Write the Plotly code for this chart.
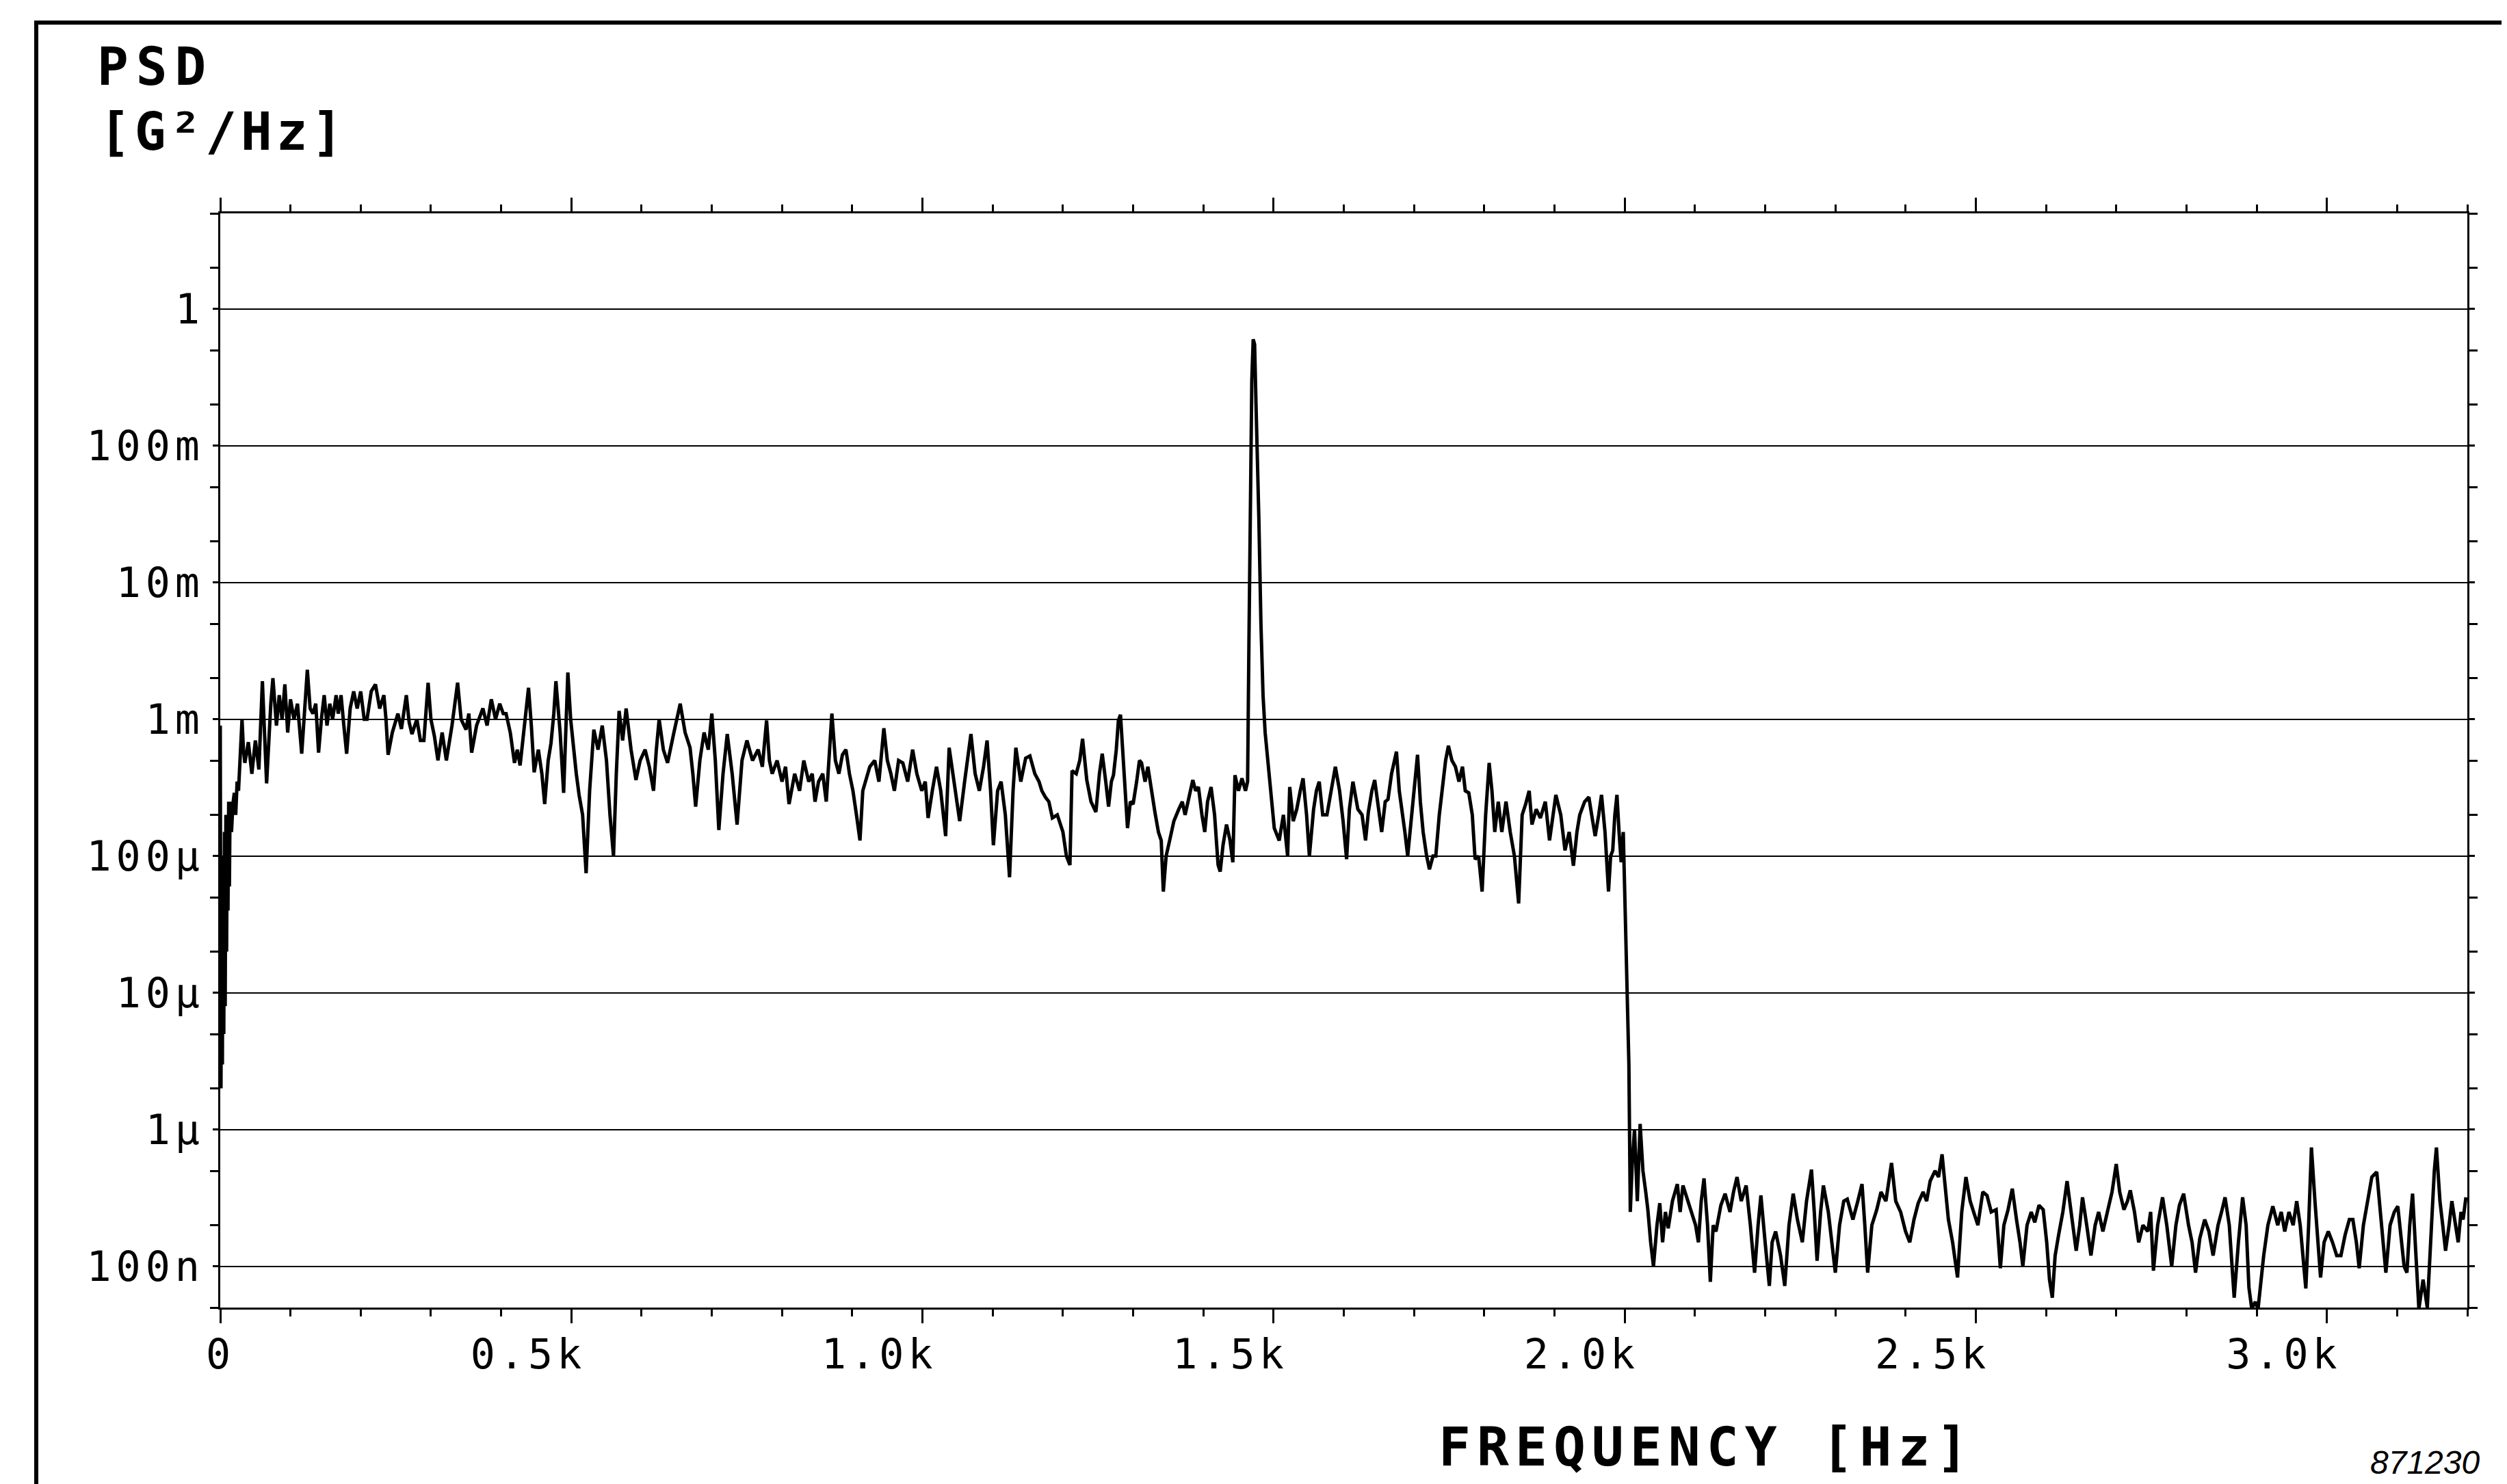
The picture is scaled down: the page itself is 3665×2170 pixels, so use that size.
import plotly.graph_objects as go

# ---------------- data ----------------
# Segment 1: 0 .. 1 kHz
f_seg1 = [0, 1, 2, 3, 4, 5, 6, 7, 8, 9, 10, 11, 12, 13, 14, 16, 18, 20, 22, 24, 26, 28, 31, 33, 35,
          40, 45, 50, 55, 60, 66, 72, 75, 80, 84, 88, 92, 96, 100, 105, 110, 116, 120, 124, 128, 132,
          136, 140, 144, 148, 152, 156, 160, 165, 168, 172, 176, 180, 185, 190, 195, 200, 205, 209,
          215, 221, 227, 233, 236, 239, 245, 253, 258, 265, 269, 273, 280, 285, 290, 296, 300, 305,
          310, 316, 322, 330, 338, 343, 350, 354, 358, 365, 374, 380, 386, 392, 398, 403, 407, 413,
          419, 423, 427, 433, 439, 443, 447, 453, 458, 462, 467, 471, 475, 478, 484, 489, 492, 495,
          499, 503, 507, 511, 516, 521, 526, 532, 538, 544, 550, 555, 560, 564, 568, 573, 578, 585,
          592, 598, 605, 611, 617, 621, 625, 631, 637, 646, 655, 662, 669, 673, 677, 683, 689, 695,
          700, 705, 710, 716, 722, 729, 736, 743, 750, 758, 766, 772, 778, 782, 786, 793, 800, 805,
          810, 818, 825, 831, 838, 843, 847, 852, 858, 863, 867, 871, 876, 881, 886, 891, 896, 901,
          906, 911, 915, 919, 925, 932, 938, 945, 950, 955, 960, 966, 972, 979, 986, 992, 999]
psd_seg1 = [9e-4, 2e-6, 4e-5, 3e-6, 1e-4, 5e-6, 1.5e-4, 8e-6, 2e-4, 2e-5, 2e-4, 4e-5, 2.5e-4, 6e-5,
            2.5e-4, 1.5e-4, 2.4e-4, 2.9e-4, 2.0e-4, 3.5e-4, 3.0e-4, 5.0e-4, 1.0e-3, 6e-4, 4.8e-4,
            6.8e-4, 4.0e-4, 7.0e-4, 4.3e-4, 1.9e-3, 3.4e-4, 1.3e-3, 2.0e-3, 9.0e-4, 1.5e-3, 1.0e-3,
            1.8e-3, 8.0e-4, 1.4e-3, 1.0e-3, 1.3e-3, 5.6e-4, 1.1e-3, 2.3e-3, 1.2e-3, 1.1e-3,
            1.3e-3, 5.7e-4, 1.0e-3, 1.5e-3, 9.0e-4, 1.3e-3, 1.0e-3, 1.5e-3, 1.1e-3, 1.5e-3, 9.0e-4,
            5.6e-4, 1.2e-3, 1.6e-3, 1.2e-3, 1.6e-3, 1.0e-3, 1.0e-3,
            1.6e-3, 1.8e-3, 1.2e-3, 1.5e-3, 1.0e-3, 5.5e-4, 8.0e-4, 1.1e-3, 8.5e-4, 1.5e-3, 9.5e-4,
            7.8e-4, 1.0e-3, 7.0e-4, 7.0e-4, 1.85e-3, 1.0e-3, 7.5e-4,
            5.0e-4, 8.0e-4, 5.0e-4, 9.0e-4, 1.85e-3, 1.0e-3, 8.4e-4, 1.1e-3, 5.7e-4, 9.0e-4, 1.2e-3,
            9.0e-4, 1.4e-3, 1.0e-3, 1.3e-3, 1.1e-3, 1.1e-3, 8.0e-4,
            4.8e-4, 6.0e-4, 4.6e-4, 9.0e-4, 1.7e-3, 9.0e-4, 4.1e-4, 6.0e-4, 4.0e-4, 2.4e-4, 5.0e-4,
            6.7e-4, 1.1e-3, 1.9e-3, 8.0e-4, 2.9e-4, 8.0e-4, 2.2e-3,
            1.0e-3, 6.0e-4, 4.0e-4, 2.8e-4, 2.0e-4, 7.5e-5, 3.0e-4, 8.4e-4, 6.0e-4, 9.0e-4, 5.0e-4,
            2.0e-4, 1.0e-4, 4.0e-4, 1.15e-3, 7.0e-4, 1.2e-3, 6.0e-4,
            3.6e-4, 5.0e-4, 6.0e-4, 4.5e-4, 3.0e-4, 6.0e-4, 1.0e-3, 6.0e-4, 4.8e-4, 8.0e-4, 1.3e-3,
            8.0e-4, 6.2e-4, 4.0e-4, 2.3e-4, 5.0e-4, 8.0e-4, 6.0e-4,
            1.1e-3, 5.0e-4, 1.55e-4, 4.0e-4, 7.8e-4, 4.0e-4, 1.7e-4, 5.0e-4, 7.0e-4, 5.0e-4, 6.0e-4,
            4.5e-4, 9.8e-4, 5.0e-4, 4.0e-4, 5.0e-4, 3.5e-4, 4.5e-4,
            2.4e-4, 4.0e-4, 3.0e-4, 5.0e-4, 3.5e-4, 4.0e-4, 2.5e-4, 3.5e-4, 4.0e-4, 2.5e-4, 5.0e-4,
            1.1e-3, 5.0e-4, 4.0e-4, 5.5e-4, 6.0e-4, 4.0e-4, 3.0e-4,
            2.0e-4, 1.3e-4, 3.0e-4, 3.6e-4, 4.5e-4, 5.0e-4, 3.5e-4, 8.6e-4, 5.0e-4, 4.0e-4, 3.0e-4,
            5.0e-4, 4.8e-4, 3.5e-4, 6.0e-4, 4.0e-4, 3.0e-4]

# Segment 2: 1 .. 2 kHz (includes the 1.47 kHz line)
f_seg2 = [1004, 1008, 1014, 1020, 1026, 1033, 1038, 1045, 1053, 1060, 1069, 1075, 1081, 1087, 1092,
          1097, 1101, 1107, 1112, 1118, 1124, 1129, 1133, 1140, 1147, 1153, 1160, 1166, 1170, 1175,
          1180, 1185, 1192, 1200, 1205, 1210, 1213, 1219, 1224, 1228, 1234, 1240, 1247, 1252, 1256,
          1261, 1265, 1269, 1272, 1276, 1279, 1282, 1285, 1287, 1290, 1292, 1296, 1300, 1305, 1309,
          1312, 1317, 1321, 1326, 1331, 1336, 1340, 1343, 1347, 1352, 1358, 1365, 1370, 1374, 1380,
          1385, 1389, 1393, 1398, 1402, 1406, 1411, 1416, 1421, 1424, 1428, 1433, 1438, 1442, 1445,
          1450, 1455, 1460, 1463, 1465, 1467, 1469, 1471, 1473, 1475, 1477, 1479, 1482, 1485, 1488,
          1492, 1496, 1501, 1508, 1514, 1520, 1523, 1528, 1533, 1538, 1542, 1547, 1551, 1557, 1561,
          1565, 1570, 1576, 1582, 1588, 1594, 1599, 1604, 1608, 1613, 1620, 1626, 1631, 1635, 1640,
          1644, 1649, 1654, 1659, 1663, 1668, 1675, 1679, 1683, 1687, 1691, 1697, 1701, 1705, 1709,
          1713, 1718, 1722, 1727, 1731, 1736, 1741, 1745, 1749, 1754, 1759, 1764, 1769, 1773, 1778,
          1783, 1787, 1792, 1797, 1802, 1807, 1811, 1815, 1820, 1825, 1831, 1837, 1843, 1849, 1854,
          1859, 1864, 1868, 1874, 1880, 1887, 1893, 1898, 1902, 1909, 1915, 1921, 1927, 1932, 1936,
          1943, 1949, 1953, 1958, 1963, 1967, 1972, 1977, 1980, 1983, 1986, 1989, 1992, 1995, 1998,
          2000, 2003]
psd_seg2 = [3.5e-4, 1.9e-4, 3.0e-4, 4.5e-4, 3.0e-4, 1.4e-4, 6.2e-4, 3.5e-4, 1.8e-4, 3.5e-4, 7.8e-4,
            4.0e-4, 3.0e-4, 4.5e-4, 7.0e-4,
            3.0e-4, 1.2e-4, 3.0e-4, 3.5e-4, 2.0e-4, 7.0e-5, 3.0e-4, 6.2e-4, 3.5e-4, 5.2e-4, 5.4e-4,
            4.0e-4, 3.5e-4, 3.0e-4, 2.7e-4,
            2.5e-4, 1.9e-4, 2.0e-4, 1.5e-4, 1.0e-4, 8.6e-5, 4.2e-4, 4.0e-4, 5.0e-4, 7.2e-4, 3.6e-4,
            2.5e-4, 2.1e-4, 4.0e-4, 5.6e-4,
            3.5e-4, 2.3e-4, 3.5e-4, 3.9e-4, 6.0e-4, 9.8e-4, 1.08e-3, 6.0e-4, 4.8e-4, 2.5e-4, 1.6e-4,
            2.5e-4, 2.4e-4, 3.5e-4, 5.0e-4,
            4.8e-4, 3.5e-4, 4.5e-4, 3.0e-4, 2.1e-4, 1.5e-4, 1.3e-4, 5.5e-5, 1.0e-4, 1.3e-4, 1.8e-4,
            2.2e-4, 2.5e-4, 2.0e-4, 2.8e-4,
            3.6e-4, 3.0e-4, 3.2e-4, 2.0e-4, 1.5e-4, 2.5e-4, 3.2e-4, 2.0e-4, 8.6e-5, 7.7e-5, 1.2e-4,
            1.7e-4, 1.3e-4, 9.0e-5, 3.9e-4,
            3.0e-4, 3.7e-4, 3.0e-4, 3.5e-4, 4.0e-3, 6.0e-2, 0.3, 0.6, 0.55, 0.2, 0.09, 0.03, 5.0e-3,
            1.5e-3, 8.0e-4,
            5.0e-4, 3.0e-4, 1.6e-4, 1.3e-4, 2.0e-4, 1.0e-4, 3.2e-4, 1.8e-4, 2.2e-4, 3.0e-4, 3.7e-4,
            2.0e-4, 1.0e-4, 2.2e-4, 3.0e-4,
            3.5e-4, 2.0e-4, 2.0e-4, 3.0e-4, 4.5e-4, 3.0e-4, 1.8e-4, 9.5e-5, 2.2e-4, 3.5e-4, 2.2e-4,
            2.0e-4, 1.3e-4, 2.1e-4, 3.0e-4,
            3.6e-4, 2.2e-4, 1.5e-4, 2.5e-4, 2.6e-4, 4.0e-4, 5.8e-4, 3.0e-4, 2.2e-4, 1.5e-4, 1.0e-4,
            2.0e-4, 3.5e-4, 5.5e-4, 2.5e-4,
            1.5e-4, 1.0e-4, 8.0e-5, 1.0e-4, 1.0e-4, 2.0e-4, 3.3e-4, 5.0e-4, 6.4e-4, 5.0e-4, 4.5e-4,
            3.5e-4, 4.5e-4, 3.0e-4, 2.9e-4,
            2.0e-4, 9.5e-5, 1.0e-4, 5.5e-5, 2.0e-4, 4.8e-4, 3.0e-4, 1.5e-4, 2.5e-4, 1.5e-4, 2.5e-4,
            1.5e-4, 1.0e-4, 4.5e-5, 2.0e-4,
            2.4e-4, 3.0e-4, 1.7e-4, 2.2e-4, 1.9e-4, 2.5e-4, 1.3e-4, 2.0e-4, 2.8e-4, 2.0e-4, 1.1e-4,
            1.5e-4, 8.5e-5, 1.5e-4, 2.0e-4,
            2.5e-4, 2.7e-4, 2.0e-4, 1.4e-4, 2.0e-4, 2.8e-4, 1.5e-4, 5.5e-5, 1.0e-4, 1.1e-4, 2.0e-4,
            2.8e-4, 1.5e-4, 9.0e-5, 1.5e-4,
            5.5e-5, 1.8e-5]

# Segment 3: 2 .. 3.2 kHz (above the anti-alias cut-off)
f_seg3 = [2006, 2008, 2011, 2014, 2018, 2022, 2026, 2030, 2033, 2037, 2041, 2046, 2050, 2054, 2058,
          2062, 2068, 2075, 2079, 2083, 2090, 2096, 2101, 2105, 2109, 2113, 2118, 2122, 2126, 2130,
          2137, 2143, 2150, 2155, 2160, 2166, 2173, 2179, 2185, 2190, 2194, 2200, 2206, 2210, 2215,
          2222, 2228, 2234, 2240, 2246, 2253, 2259, 2266, 2270, 2274, 2279, 2283, 2290, 2295, 2300,
          2306, 2312, 2317, 2325, 2332, 2338, 2342, 2346, 2352, 2359, 2365, 2372, 2380, 2386, 2393,
          2400, 2406, 2412, 2418, 2425, 2430, 2435, 2442, 2447, 2452, 2457, 2461, 2467, 2474, 2480,
          2486, 2492, 2497, 2503, 2510, 2516, 2522, 2529, 2535, 2540, 2546, 2552, 2558, 2563, 2567,
          2573, 2579, 2584, 2590, 2596, 2601, 2605, 2609, 2613, 2618, 2624, 2630, 2636, 2643, 2648,
          2652, 2658, 2664, 2670, 2675, 2681, 2688, 2694, 2700, 2705, 2711, 2716, 2720, 2726, 2732,
          2738, 2745, 2749, 2753, 2759, 2766, 2772, 2779, 2785, 2790, 2796, 2803, 2808, 2813, 2819,
          2826, 2832, 2838, 2845, 2850, 2855, 2861, 2868, 2874, 2880, 2885, 2889, 2893, 2898, 2902,
          2906, 2910, 2916, 2923, 2930, 2935, 2940, 2946, 2952, 2957, 2962, 2966, 2970, 2974, 2978,
          2983, 2987, 2991, 2996, 3002, 3008, 3014, 3020, 3026, 3032, 3037, 3042, 3046, 3052, 3058,
          3064, 3071, 3076, 3080, 3084, 3090, 3096, 3101, 3106, 3110, 3114, 3118, 3122, 3126, 3131,
          3137, 3143, 3149, 3153, 3156, 3161, 3165, 3169, 3174, 3178, 3182, 3187, 3191, 3194, 3198]
psd_seg3 = [3.0e-6, 2.5e-7, 6e-7, 1.0e-6, 3.0e-7, 1.1e-6, 5.0e-7, 3.5e-7, 2.6e-7, 1.5e-7, 1.0e-7,
            2.0e-7, 2.9e-7, 1.5e-7, 2.5e-7,
            1.9e-7, 3.0e-7, 4.0e-7, 2.5e-7, 3.9e-7, 3.0e-7, 2.4e-7, 2.0e-7, 1.5e-7, 3.0e-7, 4.4e-7,
            2.0e-7, 7.7e-8, 2.0e-7, 1.8e-7,
            2.8e-7, 3.4e-7, 2.5e-7, 3.5e-7, 4.5e-7, 3.0e-7, 3.9e-7, 2.0e-7, 9.0e-8, 2.0e-7, 3.3e-7,
            1.5e-7, 7.2e-8, 1.5e-7, 1.8e-7,
            1.2e-7, 7.2e-8, 2.0e-7, 3.4e-7, 2.2e-7, 1.5e-7, 3.0e-7, 5.1e-7, 2.5e-7, 1.1e-7, 2.5e-7,
            3.9e-7, 2.5e-7, 1.5e-7, 9.0e-8,
            2.0e-7, 3.0e-7, 3.1e-7, 2.2e-7, 3.0e-7, 4.0e-7, 2.0e-7, 9.0e-8, 2.0e-7, 2.6e-7, 3.5e-7,
            3.0e-7, 5.7e-7, 3.0e-7, 2.5e-7,
            1.8e-7, 1.5e-7, 2.2e-7, 2.9e-7, 3.5e-7, 3.0e-7, 4.2e-7, 5.0e-7, 4.5e-7, 6.6e-7, 3.5e-7,
            2.2e-7, 1.5e-7, 8.3e-8, 2.5e-7,
            4.5e-7, 3.0e-7, 2.5e-7, 2.0e-7, 3.5e-7, 3.3e-7, 2.5e-7, 2.6e-7, 9.7e-8, 2.0e-7, 2.6e-7,
            3.7e-7, 2.2e-7, 1.5e-7, 1.0e-7,
            2.0e-7, 2.5e-7, 2.1e-7, 2.8e-7, 2.6e-7, 1.5e-7, 8.0e-8, 5.9e-8, 1.2e-7, 1.7e-7, 2.5e-7,
            4.2e-7, 2.5e-7, 1.3e-7, 2.0e-7,
            3.2e-7, 2.0e-7, 1.2e-7, 2.0e-7, 2.5e-7, 1.8e-7, 2.5e-7, 3.5e-7, 5.6e-7, 3.5e-7, 2.6e-7,
            3.0e-7, 3.6e-7, 2.5e-7, 1.5e-7,
            2.0e-7, 1.8e-7, 2.5e-7, 9.3e-8, 2.0e-7, 3.2e-7, 2.0e-7, 1.0e-7, 2.0e-7, 2.8e-7, 3.4e-7,
            2.0e-7, 1.5e-7, 9.0e-8, 1.6e-7,
            2.2e-7, 1.8e-7, 1.2e-7, 2.0e-7, 2.5e-7, 3.2e-7, 2.0e-7, 5.9e-8, 1.5e-7, 3.2e-7, 2.0e-7,
            7.0e-8, 4.9e-8, 5.5e-8, 4.9e-8,
            8.0e-8, 1.2e-7, 2.0e-7, 2.75e-7, 2.0e-7, 2.5e-7, 1.8e-7, 2.5e-7, 2.0e-7, 3.0e-7, 2.0e-7,
            1.2e-7, 6.9e-8, 2.0e-7, 7.4e-7,
            3.0e-7, 1.5e-7, 8.3e-8, 1.5e-7, 1.8e-7, 1.5e-7, 1.2e-7, 1.2e-7, 1.7e-7, 2.2e-7, 2.2e-7,
            1.5e-7, 9.7e-8, 2.0e-7, 3.0e-7,
            4.5e-7, 4.9e-7, 2.5e-7, 1.5e-7, 9.0e-8, 2.0e-7, 2.5e-7, 2.75e-7, 1.5e-7, 1.0e-7, 9.0e-8,
            2.0e-7, 3.4e-7, 1.5e-7, 4.9e-8,
            8.0e-8, 5.0e-8, 2.0e-7, 5.0e-7, 7.4e-7, 3.0e-7, 2.0e-7, 1.3e-7, 2.0e-7, 3.0e-7, 2.2e-7,
            1.5e-7, 2.5e-7, 2.2e-7, 3.2e-7]

# axis ticks
x_tick_vals = [0, 500, 1000, 1500, 2000, 2500, 3000]
x_tick_text = ["0", "0.5k", "1.0k", "1.5k", "2.0k", "2.5k", "3.0k"]
y_tick_vals = [1e-7, 1e-6, 1e-5, 1e-4, 1e-3, 1e-2, 1e-1, 1]
y_tick_text = ["100n", "1\u00b5", "10\u00b5", "100\u00b5", "1m", "10m", "100m", "1"]
y_minor_vals = [m * 10.0 ** e for e in range(-8, 1) for m in (2, 5)]

freq = f_seg1 + f_seg2 + f_seg3
psd = psd_seg1 + psd_seg2 + psd_seg3

# ---------------- figure ----------------
OFF = 8                     # page body margin of the html page
W, H = 3665 - OFF, 2170 - OFF
L, R, T, B = 322 - OFF, 58, 312 - OFF, 258
PW, PH = W - L - R, H - T - B   # 3285 x 1600


def px(sx):   # screen pixel -> paper x
    return (sx - 322) / PW


def py(sy):   # screen pixel -> paper y
    return 1 - (sy - 312) / PH


MONO = "DejaVu Sans Mono"


def spaced(s, ls):
    return '<span style="letter-spacing:%dpx">%s</span>' % (ls, s)


fig = go.Figure()
fig.add_trace(go.Scatter(x=freq, y=psd, mode="lines",
                         line=dict(color="black", width=5), showlegend=False))

axis_common = dict(showline=True, linecolor="black", linewidth=3, mirror="allticks",
                   ticks="outside", tickcolor="black", tickwidth=3, zeroline=False,
                   tickfont=dict(family=MONO, size=60, color="black"))

fig.update_xaxes(range=[0, 3200], tickmode="array", tickvals=x_tick_vals,
                 ticktext=[spaced(t, 6) for t in x_tick_text], ticklen=20,
                 ticklabelposition="outside left", ticklabelshift=24, ticklabelstandoff=14,
                 showgrid=False,
                 minor=dict(dtick=100, tick0=0, ticks="outside", ticklen=10,
                            tickwidth=3, tickcolor="black", showgrid=False),
                 **axis_common)
fig.update_yaxes(type="log", range=[-7.30103, 0.69897], tickmode="array",
                 tickvals=y_tick_vals, ticktext=[spaced(t, 7) for t in y_tick_text],
                 ticklen=8, showgrid=True, gridcolor="black", gridwidth=2,
                 minor=dict(tickmode="array", tickvals=y_minor_vals, ticks="outside",
                            ticklen=12, tickwidth=3, tickcolor="black", showgrid=False),
                 **axis_common)

annos = [
    dict(text="<b>" + spaced("PSD", 11) + "</b>", x=px(140), y=py(97), xanchor="left",
         yanchor="middle", font=dict(family=MONO, size=76, color="black")),
    dict(text="<b>" + spaced("[G\u00b2/Hz]", 6) + "</b>", x=px(143), y=py(193), xanchor="left",
         yanchor="middle", font=dict(family=MONO, size=76, color="black")),
    dict(text="<b>" + spaced("FREQUENCY [Hz]", 9) + "</b>", x=px(2101), y=py(2116),
         xanchor="left", yanchor="middle", font=dict(family=MONO, size=78, color="black")),
    dict(text="<i>871230</i>", x=px(3627), y=py(2138), xanchor="right", yanchor="middle",
         font=dict(family="Liberation Sans", size=48, color="black")),
]
for a in annos:
    a.update(xref="paper", yref="paper", showarrow=False)

fig.update_layout(
    width=W, height=H, autosize=False,
    margin=dict(l=L, r=R, t=T, b=B, pad=0),
    paper_bgcolor="white", plot_bgcolor="white",
    annotations=annos,
    shapes=[dict(type="rect", xref="paper", yref="paper",
                 x0=px(53), x1=px(3660), y0=py(2240), y1=py(33),
                 line=dict(color="black", width=6), fillcolor="rgba(0,0,0,0)", layer="above")],
)

fig.write_html("out.html")
